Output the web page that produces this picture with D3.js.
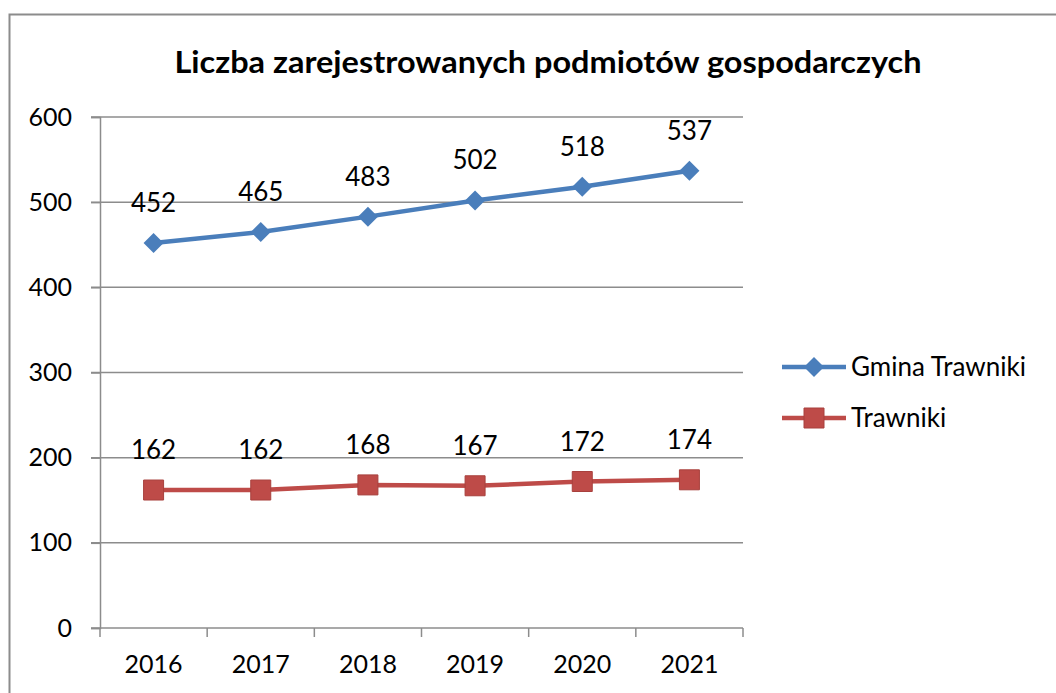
<!DOCTYPE html>
<html>
<head>
<meta charset="utf-8">
<script src="https://cdn.jsdelivr.net/npm/d3@7.9.0/dist/d3.min.js"></script>
<style>
  body { margin: 0; background: #fff; }
  svg { display: block; font-family: Lato, "Open Sans", sans-serif; }
</style>
</head>
<body>
<svg id="chart" width="1056" height="693"></svg>
<script>
// data
const years = ['2016', '2017', '2018', '2019', '2020', '2021'];
const gminaValues = [452, 465, 483, 502, 518, 537];
const trawnikiValues = [162, 162, 168, 167, 172, 174];
const yTicks = [0, 100, 200, 300, 400, 500, 600];

const series = [
  { name: 'Gmina Trawniki', values: gminaValues, color: '#4A7EBB', shape: 'diamond' },
  { name: 'Trawniki', values: trawnikiValues, color: '#BE4B48', shape: 'square' },
];

const svg = d3.select('#chart');

// outer frame (runs off the right / bottom like the screenshot)
svg.append('rect')
  .attr('x', 9.5).attr('y', 14.5)
  .attr('width', 1100).attr('height', 700)
  .attr('fill', 'none').attr('stroke', '#8c8c8c').attr('stroke-width', 2);

svg.append('text')
  .attr('x', 548).attr('y', 73)
  .attr('text-anchor', 'middle')
  .attr('font-size', 30).attr('font-weight', 'bold')
  .attr('textLength', 747).attr('lengthAdjust', 'spacingAndGlyphs')
  .attr('fill', '#000')
  .text('Liczba zarejestrowanych podmiotów gospodarczych');

const x = d3.scaleBand().domain(years).range([100, 743]);
const y = d3.scaleLinear().domain([0, 600]).range([628, 117]);

// gridlines
svg.append('g')
  .selectAll('line')
  .data(yTicks.filter((d) => d > 0))
  .join('line')
  .attr('x1', 91).attr('x2', 743)
  .attr('y1', (d) => y(d)).attr('y2', (d) => y(d))
  .attr('stroke', '#8c8c8c').attr('stroke-width', 1.5);

// y axis
const yAxis = svg.append('g')
  .attr('transform', 'translate(100,0)')
  .call(d3.axisLeft(y).tickValues(yTicks).tickSize(9).tickPadding(19));
yAxis.select('.domain').attr('stroke', '#8c8c8c').attr('stroke-width', 1.5);
yAxis.selectAll('.tick line').attr('stroke', '#8c8c8c').attr('stroke-width', 1.5);
yAxis.selectAll('.tick text')
  .attr('font-size', 25).attr('fill', '#000').attr('font-family', 'Lato, sans-serif');

// x axis with ticks at category boundaries
const xg = svg.append('g').attr('transform', 'translate(0,628)');
xg.append('line')
  .attr('x1', 91).attr('x2', 743)
  .attr('stroke', '#8c8c8c').attr('stroke-width', 1.5);
xg.selectAll('.bound')
  .data(years.concat(['end']))
  .join('line')
  .attr('x1', (d, i) => 100 + i * x.step()).attr('x2', (d, i) => 100 + i * x.step())
  .attr('y1', 0).attr('y2', 9)
  .attr('stroke', '#8c8c8c').attr('stroke-width', 1.5);
xg.selectAll('text')
  .data(years)
  .join('text')
  .attr('x', (d) => x(d) + x.bandwidth() / 2)
  .attr('y', 45)
  .attr('text-anchor', 'middle')
  .attr('font-size', 25)
  .text((d) => d);

const line = d3.line()
  .x((d, i) => x(years[i]) + x.bandwidth() / 2)
  .y((d) => y(d));

const diamond = d3.symbol().type(d3.symbolSquare).size(200);
const square = d3.symbol().type(d3.symbolSquare).size(400);

series.forEach((s) => {
  const g = svg.append('g');
  g.append('path')
    .attr('d', line(s.values))
    .attr('fill', 'none')
    .attr('stroke', s.color)
    .attr('stroke-width', 4.5)
    .attr('stroke-linejoin', 'round');

  g.selectAll('path.pt')
    .data(s.values)
    .join('path')
    .attr('class', 'pt')
    .attr('d', s.shape === 'diamond' ? diamond : square)
    .attr('transform', (d, i) =>
      `translate(${x(years[i]) + x.bandwidth() / 2},${y(d)})` + (s.shape === 'diamond' ? ' rotate(45)' : ''))
    .attr('fill', s.color)
    .attr('stroke', s.shape === 'square' ? '#a8403d' : 'none')
    .attr('stroke-width', 1);

  g.selectAll('text')
    .data(s.values)
    .join('text')
    .attr('x', (d, i) => x(years[i]) + x.bandwidth() / 2)
    .attr('y', (d) => y(d) - 31)
    .attr('text-anchor', 'middle')
    .attr('font-size', 26)
    .attr('fill', '#000')
    .text((d) => d);
});

// legend
const legend = svg.append('g');
series.forEach((s, i) => {
  const ly = 367 + i * 51;
  legend.append('line')
    .attr('x1', 782).attr('x2', 846)
    .attr('y1', ly).attr('y2', ly)
    .attr('stroke', s.color).attr('stroke-width', 4.5);
  legend.append('path')
    .attr('d', s.shape === 'diamond' ? diamond : square)
    .attr('transform', `translate(814,${ly})` + (s.shape === 'diamond' ? ' rotate(45)' : ''))
    .attr('fill', s.color)
    .attr('stroke', s.shape === 'square' ? '#a8403d' : 'none');
  legend.append('text')
    .attr('x', 851).attr('y', ly + 9)
    .attr('font-size', 26)
    .attr('fill', '#000')
    .text(s.name);
});
</script>
</body>
</html>
